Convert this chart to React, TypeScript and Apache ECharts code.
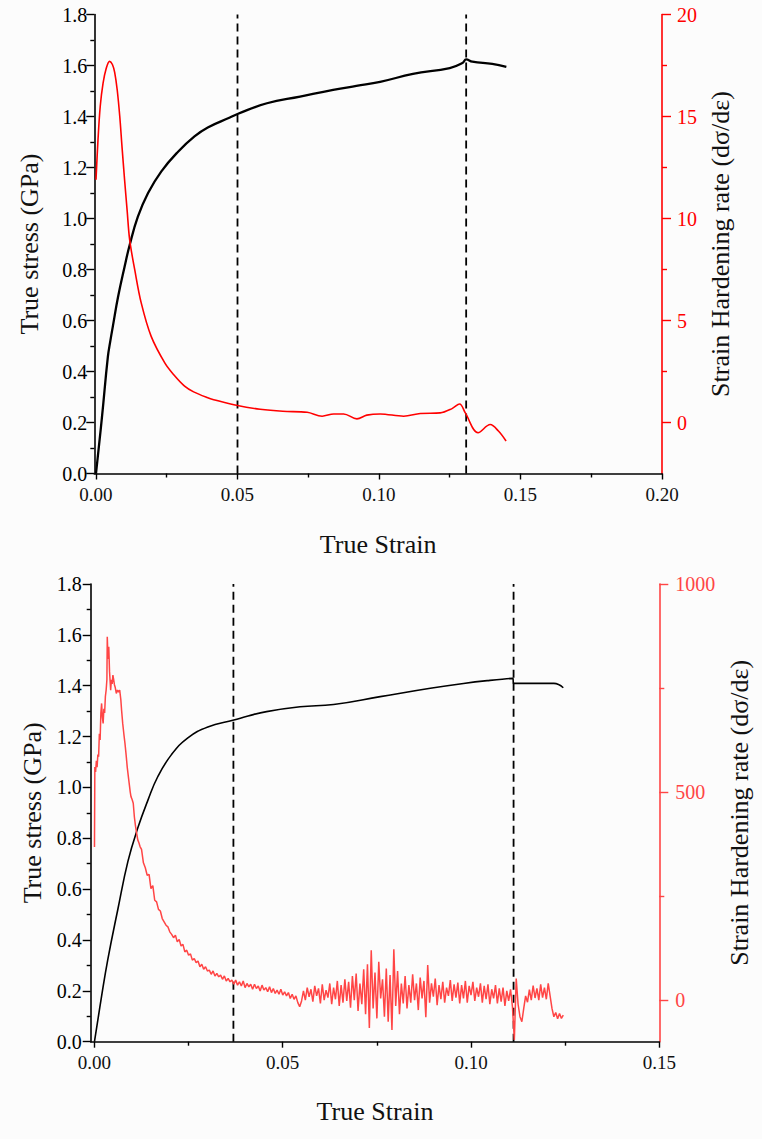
import React, { useEffect, useRef } from 'react';
import * as echarts from 'echarts';

// ---------- Top panel data ----------
const TOP_STRESS_STRAIN = [0, 0.0021, 0.0042, 0.0051, 0.006, 0.0078, 0.0101, 0.0119, 0.0148, 0.0184, 0.0231, 0.029, 0.0348, 0.0395, 0.0473, 0.05, 0.0604, 0.0721, 0.0838, 0.092, 0.1004, 0.112, 0.125, 0.1295, 0.1308, 0.133, 0.14, 0.145];
const TOP_STRESS = [0, 0.22, 0.458, 0.522, 0.58, 0.693, 0.811, 0.896, 1.007, 1.10, 1.185, 1.262, 1.322, 1.357, 1.396, 1.41, 1.452, 1.478, 1.504, 1.52, 1.536, 1.567, 1.59, 1.61, 1.624, 1.615, 1.606, 1.595];

const TOP_RATE_STRAIN = [0, 0.0007, 0.0015, 0.0025, 0.0036, 0.0048, 0.0058, 0.0066, 0.0075, 0.0084, 0.0092, 0.0101, 0.011, 0.0119, 0.0137, 0.016, 0.0195, 0.0243, 0.0274, 0.0313, 0.0345, 0.0395, 0.0416, 0.05, 0.058, 0.066, 0.0746, 0.0799, 0.084, 0.0875, 0.0922, 0.0957, 0.1004, 0.1087, 0.1146, 0.1216, 0.1258, 0.1285, 0.1305, 0.135, 0.1393, 0.1422, 0.1449];
const TOP_RATE = [11.9, 13.84, 15.5, 16.63, 17.35, 17.7, 17.55, 17.16, 16.3, 15.0, 13.5, 11.9, 10.4, 8.95, 7.48, 5.85, 4.22, 2.92, 2.35, 1.78, 1.5, 1.21, 1.12, 0.83, 0.65, 0.55, 0.5, 0.31, 0.42, 0.42, 0.18, 0.36, 0.42, 0.31, 0.44, 0.47, 0.68, 0.91, 0.47, -0.5, -0.1, -0.42, -0.91];

const TOP_DASH = [0.05, 0.1308];

// ---------- Bottom panel data ----------
const BOT_STRESS_STRAIN = [0, 0.0018, 0.0035, 0.0062, 0.0089, 0.0115, 0.0142, 0.0168, 0.0204, 0.0248, 0.0301, 0.037, 0.0408, 0.0457, 0.0546, 0.0635, 0.0759, 0.0892, 0.098, 0.1043, 0.1111, 0.1113, 0.122, 0.1245];
const BOT_STRESS = [0, 0.17, 0.32, 0.52, 0.71, 0.84, 0.95, 1.042, 1.128, 1.195, 1.238, 1.265, 1.281, 1.298, 1.317, 1.326, 1.357, 1.39, 1.409, 1.42, 1.429, 1.409, 1.409, 1.392];

const BOT_RATE_STRAIN = [
  0.0000, 0.0001, 0.0003, 0.0005, 0.0007, 0.0009, 0.0011, 0.0013, 0.0015, 0.0017,
  0.0019, 0.0021, 0.0023, 0.0025, 0.0027, 0.0029, 0.0031, 0.0033, 0.0034, 0.0036,
  0.0038, 0.0040, 0.0042, 0.0043, 0.0045, 0.0047, 0.0049, 0.0051, 0.0053, 0.0055,
  0.0058, 0.0061, 0.0064, 0.0067, 0.0070, 0.0072, 0.0075, 0.0078, 0.0081, 0.0084,
  0.0087, 0.0090, 0.0093, 0.0095, 0.0097, 0.0100, 0.0103, 0.0106, 0.0109, 0.0112,
  0.0115, 0.0118, 0.0121,
  0.0125, 0.0130, 0.0135, 0.0140, 0.0145, 0.0150, 0.0155, 0.0160, 0.0165, 0.0170,
  0.0175, 0.0180, 0.0185, 0.0190, 0.0195, 0.0200, 0.0205, 0.0210, 0.0215, 0.0220,
  0.0225, 0.0230, 0.0235, 0.0240, 0.0245, 0.0250, 0.0255, 0.0260, 0.0265, 0.0270,
  0.0275, 0.0280, 0.0285, 0.0290, 0.0295, 0.0300, 0.0305, 0.0310, 0.0315, 0.0320,
  0.0325, 0.0330, 0.0335, 0.0340, 0.0345, 0.0350, 0.0355, 0.0360, 0.0365, 0.0370,
  0.0375, 0.0380, 0.0385, 0.0390, 0.0395, 0.0400, 0.0405, 0.0410, 0.0415, 0.0420,
  0.0425, 0.0430, 0.0435, 0.0440, 0.0445, 0.0450, 0.0455, 0.0460, 0.0465, 0.0470,
  0.0475, 0.0480, 0.0485, 0.0490, 0.0495, 0.0500, 0.0505, 0.0510, 0.0515, 0.0520,
  0.0525, 0.0530, 0.0535, 0.0540, 0.0545, 0.0550, 0.0555, 0.0560, 0.0565, 0.0570,
  0.0575, 0.0580, 0.0585, 0.0590, 0.0595, 0.0600, 0.0605, 0.0610, 0.0615, 0.0620,
  0.0625, 0.0630, 0.0635, 0.0640, 0.0645, 0.0650, 0.0655, 0.0660, 0.0665, 0.0670,
  0.0675, 0.0680, 0.0685, 0.0690, 0.0695, 0.0700, 0.0705, 0.0710, 0.0715, 0.0720,
  0.0725, 0.0730, 0.0735, 0.0740, 0.0745, 0.0750, 0.0755, 0.0760, 0.0765, 0.0770,
  0.0775, 0.0780, 0.0785, 0.0790, 0.0795, 0.0800, 0.0805, 0.0810, 0.0815, 0.0820,
  0.0825, 0.0830, 0.0835, 0.0840, 0.0845, 0.0850, 0.0855, 0.0860, 0.0865, 0.0870,
  0.0875, 0.0880, 0.0885, 0.0890, 0.0895, 0.0900, 0.0905, 0.0910, 0.0915, 0.0920,
  0.0925, 0.0930, 0.0935, 0.0940, 0.0945, 0.0950, 0.0955, 0.0960, 0.0965, 0.0970,
  0.0975, 0.0980, 0.0985, 0.0990, 0.0995, 0.1000, 0.1005, 0.1010, 0.1015, 0.1020,
  0.1025, 0.1030, 0.1035, 0.1040, 0.1045, 0.1050, 0.1055, 0.1060, 0.1065, 0.1070,
  0.1075, 0.1080, 0.1085, 0.1090, 0.1095, 0.1100, 0.1105, 0.1110, 0.1115, 0.1120,
  0.1125, 0.1130, 0.1135, 0.1140, 0.1145, 0.1150, 0.1155, 0.1160, 0.1165, 0.1170,
  0.1175, 0.1180, 0.1185, 0.1190, 0.1195, 0.1200, 0.1205, 0.1210, 0.1215, 0.1220,
  0.1225, 0.1230, 0.1235, 0.1240, 0.1245,
];
const BOT_RATE = [
  368, 560, 548, 575, 560, 590, 585, 640, 625, 690,
  713, 680, 665, 700, 690, 730, 745, 770, 873, 820,
  849, 790, 760, 745, 770, 760, 781, 770, 758, 752,
  737, 745, 740, 745, 722, 697, 665, 640, 617, 590,
  560, 537, 515, 500, 489, 482, 473, 440, 418, 401,
  385, 378, 369,
  362, 330, 318, 300, 302, 268, 275, 240, 236, 218,
  214, 196, 188, 180, 176, 164, 158, 150, 156, 140,
  146, 130, 134, 116, 120, 108, 111, 96, 100, 90,
  94, 80, 86, 74, 80, 70, 72, 62, 70, 58,
  64, 56, 60, 50, 58, 46, 52, 44, 48, 38,
  48, 36, 44, 34, 46, 30, 40, 32, 38, 26,
  38, 28, 34, 22, 36, 24, 30, 20, 32, 18,
  28, 16, 24, 14, 26, 12, 20, 10, 18, 4,
  14, 2, 10, -6, -16, -2, 22, 0, 30, 8,
  26, -4, 34, 10, 28, -8, 38, 0, 24, 6,
  40, -10, 30, 2, 46, -14, 36, -6, 50, -2,
  44, -18, 58, 0, 64, -26, 40, -10, 74, -34,
  86, -67, 120, -20, 66, -44, 92, 4, 50, -40,
  76, -52, 60, -72, 122, -14, 70, -34, 40, -8,
  58, -20, 36, -6, 62, 0, 40, -24, 54, 4,
  46, -41, 84, -6, 40, 8, 52, -12, 36, 2,
  44, -6, 30, 10, 48, -2, 38, 6, 42, -8,
  36, 4, 46, -6, 34, 12, 44, -2, 30, 8,
  40, -6, 34, 2, 38, -10, 26, 4, 36, -8,
  28, -4, 30, -14, 22, -2, 26, -16, -96, 52,
  -10, -40, -52, -20, 10, -5, 25, 0, 35, 5,
  28, 0, 38, 6, 30, 2, 40, 10, -20, -40,
  -30, -45, -32, -44, -36,
];

const BOT_DASH = [0.0369, 0.1113];

// ---------- Tick values ----------
const TOP_X_MAJOR = [0, 0.05, 0.1, 0.15, 0.2];
const TOP_X_MINOR = [0.025, 0.075, 0.125, 0.175];
const BOT_X_MAJOR = [0, 0.05, 0.1, 0.15];
const BOT_X_MINOR = [0.025, 0.075, 0.125];
const STRESS_MAJOR = [0, 0.2, 0.4, 0.6, 0.8, 1.0, 1.2, 1.4, 1.6, 1.8];
const STRESS_MINOR = [0.1, 0.3, 0.5, 0.7, 0.9, 1.1, 1.3, 1.5, 1.7];
const STRESS_RANGE = [0, 1.8];
const TOP_RATE_MAJOR = [0, 5, 10, 15, 20];
const TOP_RATE_MINOR = [2.5, 7.5, 12.5, 17.5];
const BOT_RATE_MAJOR = [0, 500, 1000];
const BOT_RATE_MINOR = [250, 750];

const FONT = "'Liberation Serif', 'Times New Roman', serif";
const RED_TOP = '#ff0000';
const RED_BOT = '#ff4545';

const zip = (xs: number[], ys: number[]) => xs.map((x, i) => [x, ys[i]]);

function xAxisPair(gridIndex: number, min: number, max: number, major: number[], minor: number[], nameGap: number) {
  return [
    {
      type: 'value', gridIndex, min, max, position: 'bottom',
      axisLine: { show: true, onZero: false, lineStyle: { color: '#000', width: 1.6 } },
      axisTick: { show: true, length: 6, customValues: major, lineStyle: { color: '#000', width: 1.4 } },
      axisLabel: { show: true, customValues: major, formatter: (v: number) => v.toFixed(2), margin: 11, fontFamily: FONT, fontSize: 19, color: '#111' },
      splitLine: { show: false },
      name: 'True Strain', nameLocation: 'middle', nameGap,
      nameTextStyle: { fontFamily: FONT, fontSize: 26, color: '#111' },
    },
    {
      type: 'value', gridIndex, min, max, position: 'bottom',
      axisLine: { show: false, onZero: false },
      axisTick: { show: true, length: 4, customValues: minor, lineStyle: { color: '#000', width: 1.4 } },
      axisLabel: { show: false },
      splitLine: { show: false },
    },
  ];
}

function yAxisPair(gridIndex: number, position: string, min: number, max: number, major: number[], minor: number[],
  color: string, fmt: (v: number) => string, name: string, nameGap: number, majorLen: number, minorLen: number, margin: number) {
  return [
    {
      type: 'value', gridIndex, position, min, max,
      axisLine: { show: true, onZero: false, lineStyle: { color, width: 1.6 } },
      axisTick: { show: true, length: majorLen, customValues: major, lineStyle: { color, width: 1.4 } },
      axisLabel: { show: true, customValues: major, formatter: fmt, margin, fontFamily: FONT, fontSize: 20, color },
      splitLine: { show: false },
      name, nameLocation: 'middle', nameGap,
      nameTextStyle: { fontFamily: FONT, fontSize: 26, color: '#111' },
    },
    {
      type: 'value', gridIndex, position, min, max,
      axisLine: { show: false, onZero: false },
      axisTick: { show: true, length: minorLen, customValues: minor, lineStyle: { color, width: 1.4 } },
      axisLabel: { show: false },
      splitLine: { show: false },
    },
  ];
}

function dashSeries(values: number[], xAxisIndex: number, yAxisIndex: number) {
  return values.map((v) => ({
    type: 'line', xAxisIndex, yAxisIndex, silent: true,
    data: [[v, STRESS_RANGE[0]], [v, STRESS_RANGE[1]]],
    showSymbol: false, symbol: 'none',
    lineStyle: { color: '#000', type: [8, 5], width: 1.8 },
    z: 1,
  }));
}

export default function App() {
  const ref = useRef<HTMLDivElement>(null);
  useEffect(() => {
    document.body.style.margin = '0';
    const chart = echarts.init(ref.current!, null, { renderer: 'svg' });
    const option: any = {
      animation: false,
      backgroundColor: '#fcfcfc',
      grid: [
        { left: 94.3, top: 14.5, width: 567.7, height: 459, outerBoundsMode: 'none' },
        { left: 90.7, top: 584, width: 568.6, height: 457.7, outerBoundsMode: 'none' },
      ],
      xAxis: [
        ...xAxisPair(0, -0.0006, 0.2, TOP_X_MAJOR, TOP_X_MINOR, 58),
        ...xAxisPair(1, -0.001, 0.15, BOT_X_MAJOR, BOT_X_MINOR, 57),
      ],
      yAxis: [
        ...yAxisPair(0, 'left', STRESS_RANGE[0], STRESS_RANGE[1], STRESS_MAJOR, STRESS_MINOR, '#000', (v) => v.toFixed(1), 'True stress (GPa)', 52, 8, 4, 7),
        ...yAxisPair(0, 'right', -2.5, 20, TOP_RATE_MAJOR, TOP_RATE_MINOR, RED_TOP, (v) => String(v), 'Strain Hardening rate (dσ/dε)', 43, 9, 5, 15),
        ...yAxisPair(1, 'left', STRESS_RANGE[0], STRESS_RANGE[1], STRESS_MAJOR, STRESS_MINOR, '#000', (v) => v.toFixed(1), 'True stress (GPa)', 45, 8, 4, 9),
        ...yAxisPair(1, 'right', -100, 1000, BOT_RATE_MAJOR, BOT_RATE_MINOR, RED_BOT, (v) => String(v), 'Strain Hardening rate (dσ/dε)', 65, 9, 5, 16),
      ],
      series: [
        ...dashSeries(TOP_DASH, 0, 0),
        ...dashSeries(BOT_DASH, 2, 4),
        {
          type: 'line', xAxisIndex: 0, yAxisIndex: 0, data: zip(TOP_STRESS_STRAIN, TOP_STRESS),
          showSymbol: false, symbol: 'none', smooth: 0.45,
          lineStyle: { color: '#000', width: 2.3 },
        },
        {
          type: 'line', xAxisIndex: 0, yAxisIndex: 2, data: zip(TOP_RATE_STRAIN, TOP_RATE),
          showSymbol: false, symbol: 'none', smooth: 0.35,
          lineStyle: { color: RED_TOP, width: 1.6 },
        },
        {
          type: 'line', xAxisIndex: 2, yAxisIndex: 4, data: zip(BOT_STRESS_STRAIN, BOT_STRESS),
          showSymbol: false, symbol: 'none', smooth: 0.45,
          lineStyle: { color: '#000', width: 1.6 },
        },
        {
          type: 'line', xAxisIndex: 2, yAxisIndex: 6, data: zip(BOT_RATE_STRAIN, BOT_RATE),
          showSymbol: false, symbol: 'none',
          lineStyle: { color: RED_BOT, width: 1.5 },
        },
      ],
    };
    chart.setOption(option);
    return () => chart.dispose();
  }, []);
  return <div ref={ref} style={{ width: 762, height: 1139 }} />;
}
